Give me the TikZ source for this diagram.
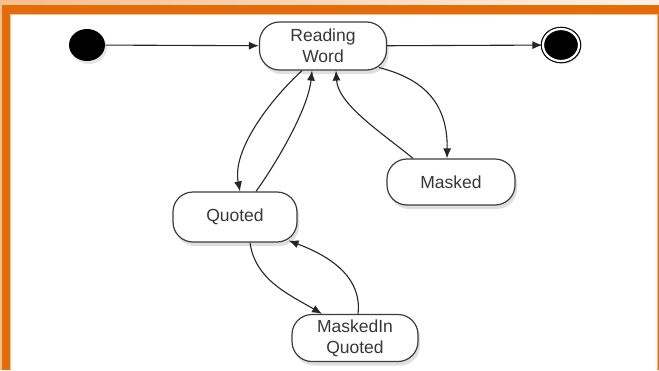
\documentclass[tikz,border=0pt]{standalone}
\usepackage{fontspec}
\setmainfont{Liberation Sans}
\usepackage{tikz}
\usetikzlibrary{shapes,arrows,arrows.meta,calc,fit,positioning,shadows}

\definecolor{frameorange}{RGB}{228,108,10}
\definecolor{framelight}{RGB}{246,190,140}
\definecolor{bandpale}{RGB}{253,242,232}
\definecolor{stateline}{RGB}{60,60,60}
\definecolor{statetext}{RGB}{55,55,55}

\begin{document}
\begin{tikzpicture}[x=1pt,y=-1pt,>={Latex[length=10pt,width=8pt]},font=\fontsize{17.5}{21}\selectfont,line width=1.1pt]
			\tikzstyle{state}=[draw=stateline, line width=1.2pt, fill=white, rounded corners=20pt, minimum width=126pt, minimum height=48pt, inner sep=2pt, align=center, text=statetext, drop shadow={shadow xshift=2pt, shadow yshift=-4pt, opacity=0.25}]
			\tikzstyle{pseudo}=[ellipse, fill=black, inner sep=0pt, drop shadow={shadow xshift=2pt, shadow yshift=-3pt, opacity=0.2}]
			\tikzstyle{trans}=[->, draw=black!85]

			% frame
			\useasboundingbox (0,0) rectangle (659,370);
			\fill[framelight] (0,0) rectangle (659,370);
			\shade[left color=framelight, right color=bandpale] (0,0) rectangle (659,5);
			\fill[frameorange] (2,5) rectangle (659,370);
			\fill[white, draw=framelight, line width=0.8pt] (10.5,14.5) rectangle (657.5,372);

			% states
			\node [pseudo, minimum width=36pt, minimum height=32pt] (init) at (87,45) {};
			\node [pseudo, draw=black, line width=1.2pt, double=white, double distance=2.2pt, minimum width=36pt, minimum height=32pt] (final) at (561,45) {};
			\node [state, minimum width=127pt] (rw) at (323,46) {Reading\\Word};
			\node [state, minimum width=124pt, minimum height=50pt] (q) at (235,217) {Quoted};
			\node [state, minimum width=128pt, minimum height=46pt] (m) at (451,182) {Masked};
			\node [state, minimum height=47pt] (miq) at (355,338) {MaskedIn\\Quoted};

			% transitions
			\draw [trans] (init) -- (rw);
			\draw [trans] (rw) -- (final);
			\draw [trans] ([xshift=-21pt]rw.south) .. controls (270,100) and (232,150) .. ([xshift=5pt]q.north);
			\draw [trans] ([xshift=21pt]q.north) .. controls (275,165) and (308,110) .. ([xshift=-11pt]rw.south);
			\draw [trans] ([xshift=-38pt]m.north) .. controls (385,135) and (338,105) .. ([xshift=13pt]rw.south);
			\draw [trans] ([shift={(-8,-3)}]rw.south east) .. controls (420,78) and (448,100) .. ([xshift=-4pt]m.north);
			\draw [trans] ([xshift=15pt]q.south) .. controls (255,280) and (290,295) .. ([xshift=-33pt]miq.north);
			\draw [trans] ([xshift=3pt]miq.north) .. controls (362,280) and (335,258) .. ([shift={(-9,-2)}]q.south east);
		\end{tikzpicture}
\end{document}
